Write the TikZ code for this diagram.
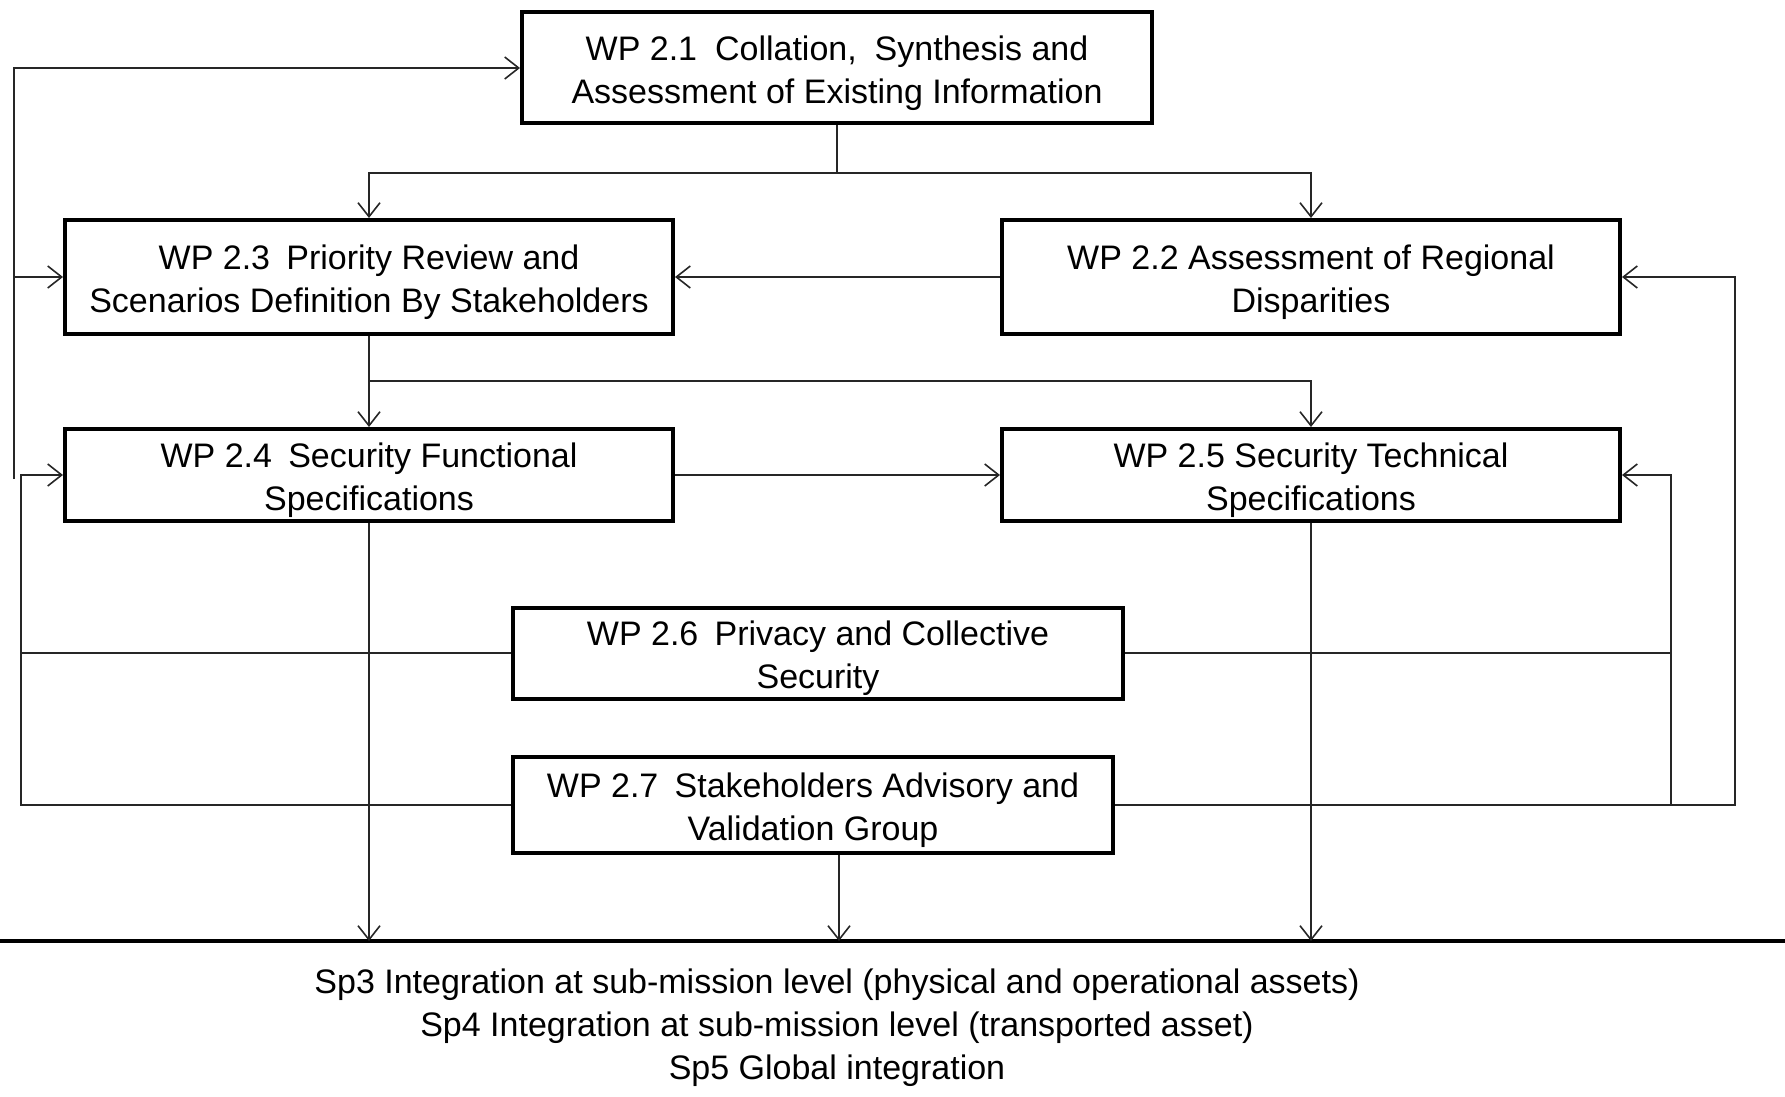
\documentclass[tikz,border=0pt]{standalone}
\usepackage{fontspec}
\setmainfont{Liberation Sans}
\usetikzlibrary{arrows.meta}
\newcommand{\dnstrut}{\rule{0pt}{17.2pt}}
\begin{document}
\begin{tikzpicture}[x=0.5pt,y=-0.5pt,
  wpbox/.style={draw=black, line width=2pt, rectangle, align=center, inner sep=0pt,
    font=\fontsize{17pt}{21.5pt}\selectfont},
  conn/.style={draw=black!85, line width=0.8pt},
  arr/.style={conn, -{Straight Barb[length=7pt,width=11pt,line width=0.8pt]}},
  baseline/.style={draw=black, line width=2pt},
  sptext/.style={align=center, inner sep=0pt, font=\fontsize{17pt}{21.5pt}\selectfont}]
\useasboundingbox (0,0) rectangle (1785,1097);
% boxes
\node[wpbox, minimum width=315pt, minimum height=55.5pt] (b21) at (837,68)
  {\dnstrut WP 2.1\hspace{0.25em} Collation,\hspace{0.25em} Synthesis and\\Assessment of Existing Information};
\node[wpbox, minimum width=304pt, minimum height=57pt] (b23) at (369,277)
  {\dnstrut WP 2.3\hspace{0.2em} Priority Review and\\Scenarios Definition By Stakeholders};
\node[wpbox, minimum width=309pt, minimum height=57pt] (b22) at (1311,277)
  {\dnstrut WP 2.2 Assessment of Regional\\Disparities};
\node[wpbox, minimum width=304pt, minimum height=46pt] (b24) at (369,475)
  {\dnstrut WP 2.4\hspace{0.2em} Security Functional\\Specifications};
\node[wpbox, minimum width=309pt, minimum height=46pt] (b25) at (1311,475)
  {\dnstrut WP 2.5 Security Technical\\Specifications};
\node[wpbox, minimum width=305pt, minimum height=45.5pt] (b26) at (818,653)
  {\dnstrut WP 2.6\hspace{0.2em} Privacy and Collective\\Security};
\node[wpbox, minimum width=300pt, minimum height=48pt] (b27) at (813,805)
  {\dnstrut WP 2.7\hspace{0.2em} Stakeholders Advisory and\\Validation Group};
% bottom line and text
\coordinate (bl) at (0,941);
\coordinate (br) at (1785,941);
\draw[baseline] (bl) -- (br);
\node[sptext] (sp) at (837,1028)
  {Sp3 Integration at sub-mission level (physical and operational assets)\\
   Sp4 Integration at sub-mission level (transported asset)\\
   Sp5 Global integration};
% junctions and buses
\coordinate (j1) at (839,173);
\coordinate (j2) at (369,381);
\coordinate (L1) at (21,0);
\coordinate (L2) at (14,0);
\coordinate (R1) at (1735,0);
\coordinate (R2) at (1671,0);
% top distribution
\draw[conn] (b21.south) -- (b21.south |- j1);
\draw[arr] (b21.south |- j1) -| (b23.north);
\draw[arr] (b21.south |- j1) -| (b22.north);
\draw[arr] (b22.west) -- (b23.east);
\draw[arr] (b23.south) -- (b24.north);
\draw[arr] (j2) -| (b25.north);
\draw[arr] (b24.east) -- (b25.west);
% down to baseline
\draw[arr] (b24.south) -- (b24.south |- bl);
\draw[arr] (b25.south) -- (b25.south |- bl);
\draw[arr] (b27.south -| j1) -- (j1 |- bl);
% left feedback
\draw[arr] (b27.west) -- (b27.west -| L1) -- (b24.west -| L1) -- (b24.west);
\draw[conn] (b26.west) -- (b26.west -| L1);
\draw[arr] ([yshift=-2pt]b24.west -| L2) -- (b21.west -| L2) -- (b21.west);
\draw[arr] (b23.west -| L2) -- (b23.west);
% right feedback
\draw[arr] (b27.east) -- (b27.east -| R1) -- (b22.east -| R1) -- (b22.east);
\draw[arr] (b26.east) -- (b26.east -| R2) -- (b25.east -| R2) -- (b25.east);
\draw[conn] (b26.east -| R2) -- (b27.east -| R2);
\end{tikzpicture}
\end{document}
